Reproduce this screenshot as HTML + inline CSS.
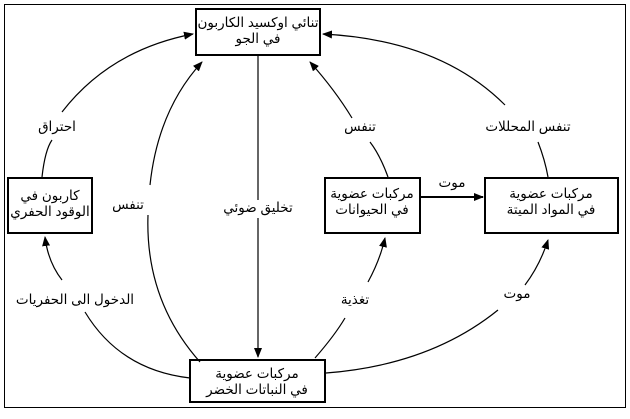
<!DOCTYPE html>
<html><head><meta charset="utf-8"><style>
body{margin:0;background:#fff;width:630px;height:414px;overflow:hidden}
svg text{font-family:"Liberation Sans","DejaVu Sans",sans-serif;font-size:13.5px;fill:#000}
</style></head><body>
<svg width="630" height="414" viewBox="0 0 630 414" xmlns="http://www.w3.org/2000/svg">
<defs><marker id="a" markerWidth="10" markerHeight="8" refX="9" refY="4" orient="auto" markerUnits="userSpaceOnUse"><path d="M0,0 L10,4 L0,8 z" fill="#000"/></marker></defs>
<rect x="4.5" y="4.5" width="621" height="403" fill="none" stroke="#000" stroke-width="1"/>
<g fill="#fff" stroke="#000" stroke-width="2">
<rect x="196" y="9" width="124" height="46"/>
<rect x="8" y="178" width="84" height="55"/>
<rect x="325" y="178" width="95" height="55"/>
<rect x="485" y="178" width="133" height="55"/>
<rect x="190" y="360" width="135" height="42"/>
</g>
<g fill="none" stroke="#000" stroke-width="1.2">
<path d="M42,177 Q45,150 52,140"/><path d="M62,112 Q110,50 193,34" marker-end="url(#a)"/>
<path d="M200,362 Q145,300 148,215"/><path d="M150,185 Q158,110 202,62" marker-end="url(#a)"/>
<path d="M258,56 L258,200"/><path d="M258,218 L258,357" marker-end="url(#a)"/>
<path d="M388,177 Q380,155 370,142"/><path d="M352,118 Q335,90 310,62" marker-end="url(#a)"/>
<path d="M548,177 Q545,160 538,142"/><path d="M505,105 Q440,40 323,34" marker-end="url(#a)"/>
<path d="M420,197 L483,197" marker-end="url(#a)" stroke-width="2"/>
<path d="M315,358 Q335,335 345,318"/><path d="M368,282 Q380,260 385,238" marker-end="url(#a)"/>
<path d="M190,378 Q120,370 85,312"/><path d="M62,280 Q48,262 45,237" marker-end="url(#a)"/>
<path d="M326,373 Q430,365 498,310"/><path d="M525,285 Q540,265 548,240" marker-end="url(#a)"/>
</g>
<g text-anchor="middle" direction="rtl">
<text x="258" y="27">تنائي اوكسيد الكاربون</text>
<text x="258" y="43">في الجو</text>
<text x="50" y="200">كاربون في</text>
<text x="50" y="216">الوقود الحفري</text>
<text x="372" y="198">مركبات عضوية</text>
<text x="372" y="214">في الحيوانات</text>
<text x="551" y="198">مركبات عضوية</text>
<text x="551" y="214">في المواد الميتة</text>
<text x="257" y="378">مركبات عضوية</text>
<text x="257" y="394">في النباتات الخضر</text>
<text x="57" y="131">احتراق</text>
<text x="128" y="209">تنفس</text>
<text x="258" y="212">تخليق ضوئي</text>
<text x="360" y="131">تنفس</text>
<text x="528" y="131">تنفس المحللات</text>
<text x="452" y="187">موت</text>
<text x="355" y="304">تغذية</text>
<text x="75" y="304">الدخول الى الحفريات</text>
<text x="517" y="298">موت</text>
</g>
</svg>
</body></html>
